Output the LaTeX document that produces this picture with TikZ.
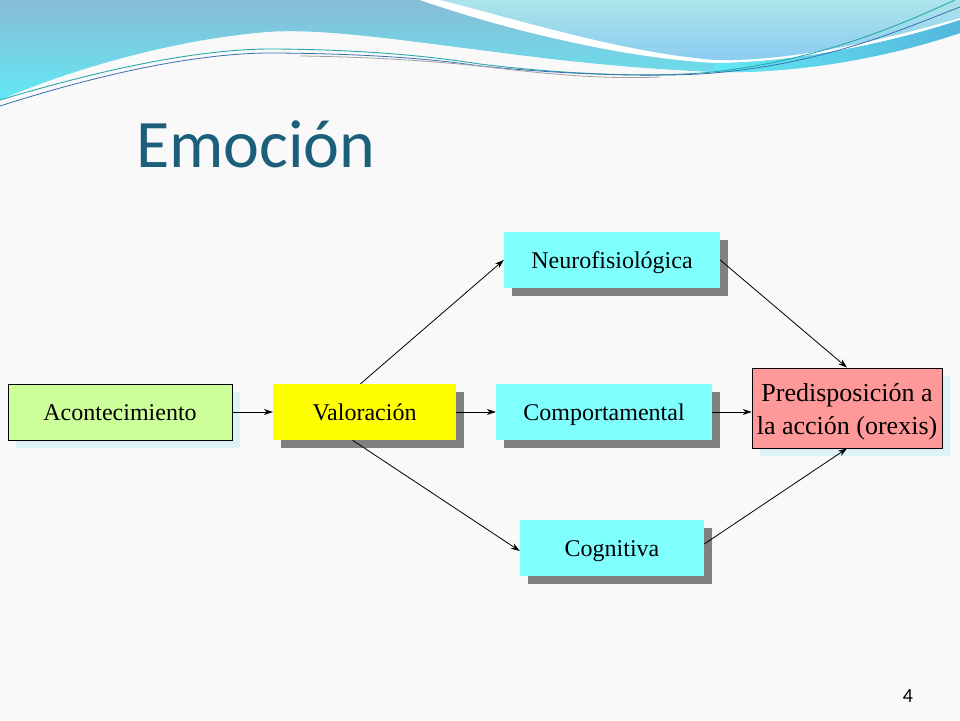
\documentclass[tikz,border=0pt]{standalone}
\usepackage{fontspec}
\setmainfont{Liberation Serif}
\newfontfamily\titlefont{Carlito}
\usetikzlibrary{arrows.meta,shadows}
\definecolor{bgc}{HTML}{F9F9F9}
\definecolor{titlec}{HTML}{1B5F7B}
\definecolor{sgray}{HTML}{808080}
\definecolor{scyan}{HTML}{DDF3F8}
\definecolor{greenbox}{HTML}{CCFF99}
\definecolor{yellowbox}{HTML}{FFFF00}
\definecolor{cyanbox}{HTML}{80FFFF}
\definecolor{pinkbox}{HTML}{FF9999}
\definecolor{bandtop}{HTML}{88BCD6}
\definecolor{bandbot}{HTML}{62E8F4}
\definecolor{lighttop}{HTML}{ACE4EA}
\definecolor{lightbot}{HTML}{8ACCF0}
\definecolor{bandright}{HTML}{54B6DC}
\definecolor{lineteal}{HTML}{2AA8A8}
\definecolor{lineblue}{HTML}{3A6FB0}
\definecolor{linegray}{HTML}{A0A0A8}
\tikzset{
  box/.style={minimum height=56pt, inner sep=0pt, text height=20pt, text depth=4pt,
    font=\fontsize{24}{28}\selectfont, text=black},
  grayshadow/.style={drop shadow={shadow xshift=8pt, shadow yshift=-8pt, fill=sgray, opacity=1}},
  cyanshadow/.style={drop shadow={shadow xshift=8pt, shadow yshift=-8pt, fill=scyan, opacity=1}},
  conn/.style={-{Stealth[length=9pt,width=6pt]}, line width=0.8pt, black}
}
\begin{document}
\begin{tikzpicture}[x=1pt,y=-1pt]
\useasboundingbox (0,0) rectangle (960,720);
\fill[bgc] (0,0) rectangle (960,720);
% top waves
\shade[top color=bandtop, bottom color=bandbot]
  (0,0) -- (960,0) -- (960,33) .. controls (880,60) and (790,74) .. (713,72)
  .. controls (620,68) and (540,58) .. (480,50)
  .. controls (400,40) and (320,28) .. (267,32)
  .. controls (170,40) and (70,70) .. (0,100) -- cycle;
\fill[white] (420,0) .. controls (500,28) and (620,58) .. (715,63)
  .. controls (800,63) and (900,40) .. (960,20) -- (960,0) -- cycle;
\shade[top color=lighttop, bottom color=lightbot]
  (440,0) -- (960,0) -- (960,18) .. controls (900,35) and (800,62) .. (715,60)
  .. controls (620,52) and (520,20) .. (440,0) -- cycle;
\shade[left color=bandbot, right color=bandright]
  (715,63) .. controls (800,63) and (900,40) .. (960,20) -- (960,33)
  .. controls (880,60) and (790,74) .. (713,72) -- cycle;
\draw[lineteal, line width=0.9pt] (0,100) .. controls (100,70) and (200,48) .. (277,49)
  .. controls (380,50) and (440,58) .. (480,64)
  .. controls (560,74) and (650,78) .. (713,72)
  .. controls (820,60) and (900,25) .. (955,0);
\draw[lineblue, line width=0.8pt] (0,106) .. controls (100,74) and (200,52) .. (277,53)
  .. controls (380,54) and (440,60) .. (480,66)
  .. controls (560,74) and (640,77) .. (700,74)
  .. controls (820,66) and (900,30) .. (960,7);
\draw[linegray, line width=0.8pt] (300,56) .. controls (380,57) and (440,62) .. (480,66)
  .. controls (560,76) and (610,79) .. (660,77);
% title
\node[anchor=base west, text=titlec, inner sep=0pt, font=\titlefont\fontsize{68}{80}\selectfont] (title) at (136,167) {Emoción};
% boxes
\node[box, cyanshadow, draw=black, line width=0.8pt, fill=greenbox, minimum width=224pt] (acon) at (120,412) {Acontecimiento};
\node[box, grayshadow, fill=yellowbox, minimum width=183pt] (val) at (364.5,412) {Valoración};
\node[box, grayshadow, fill=cyanbox, minimum width=216pt] (neuro) at (612,260) {Neurofisiológica};
\node[box, grayshadow, fill=cyanbox, minimum width=216pt] (comp) at (604,412) {Comportamental};
\node[box, grayshadow, fill=cyanbox, minimum width=184pt] (cogn) at (612,548) {Cognitiva};
\node[cyanshadow, draw=black, line width=0.8pt, fill=pinkbox, minimum width=190pt, minimum height=80pt, inner sep=0pt, align=center, font=\fontsize{26}{33}\selectfont] (pred) at (847,408) {\rule{0pt}{26pt}Predisposición a\\la acción (orexis)};
% connectors
\draw[conn] (acon.east) -- (val.west);
\draw[conn] (val.east) -- (comp.west);
\draw[conn] ([xshift=-4pt]val.north) -- (neuro.west);
\draw[conn] ([xshift=-12pt]val.south) -- ([yshift=-3pt]cogn.west);
\draw[conn] (neuro.east) -- (pred.north);
\draw[conn] ([yshift=4pt]cogn.east) -- (pred.south);
\draw[conn] (comp.east) -- (comp.east -| pred.west);
% page number
\node[anchor=base, inner sep=0pt, font=\titlefont\fontsize{20}{24}\selectfont] (pnum) at (908,702) {4};
\end{tikzpicture}
\end{document}
